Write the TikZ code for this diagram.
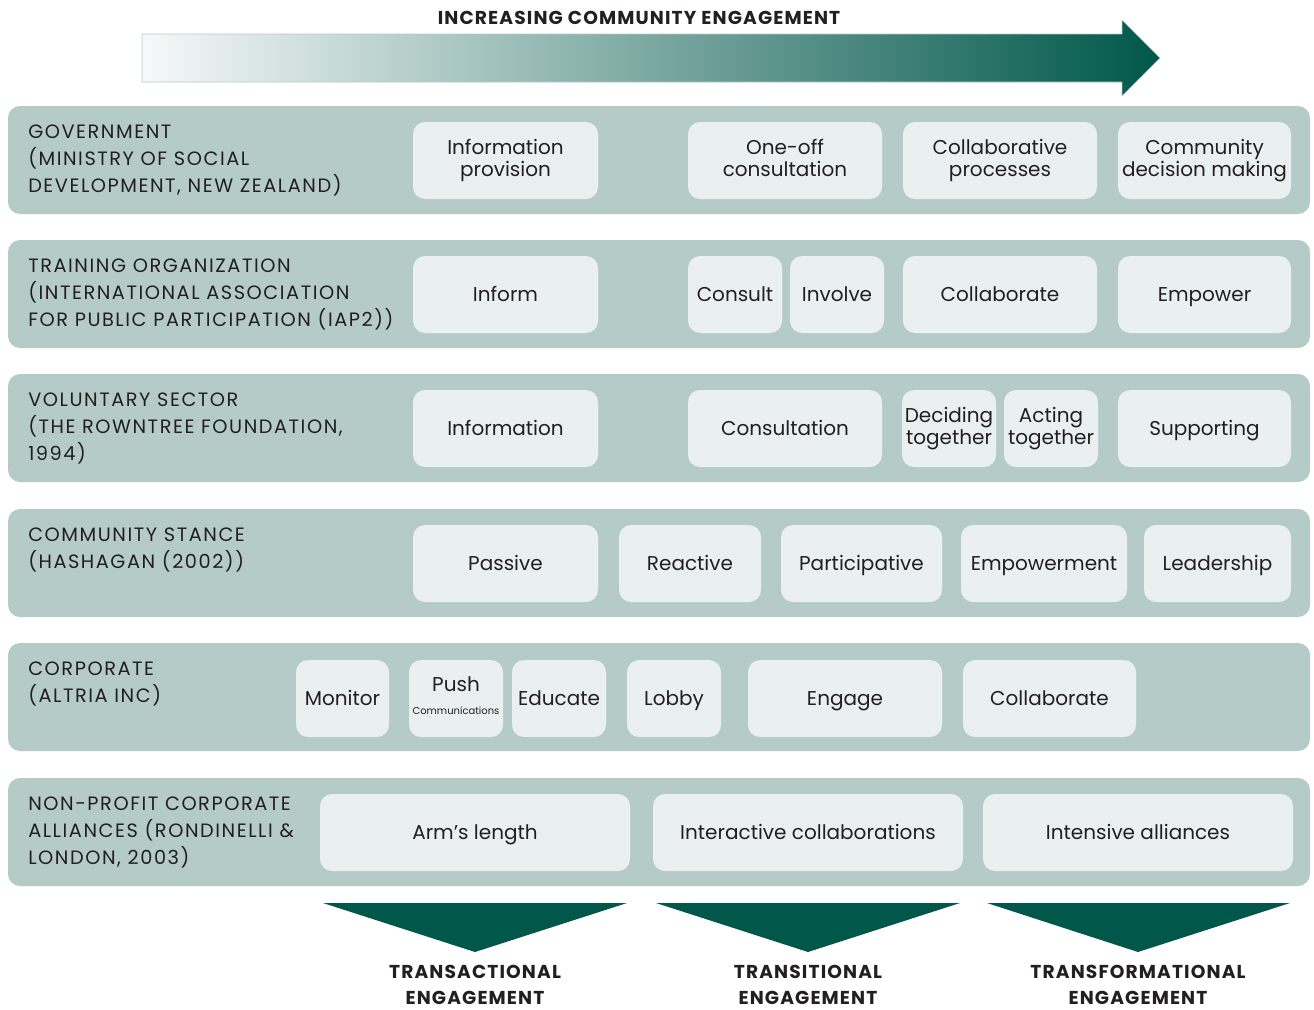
\documentclass[tikz,border=0pt]{standalone}
\usepackage{fontspec}
\setmainfont{Poppins}
\newfontfamily\capsfont{Poppins}[LetterSpace=8]
\newfontfamily\headfont{Poppins}[LetterSpace=6]
\usetikzlibrary{positioning}
\definecolor{bandgreen}{HTML}{B5CBC7}
\definecolor{boxgreen}{HTML}{E9F0EF}
\definecolor{darkgreen}{HTML}{00574A}
\definecolor{inktext}{HTML}{231F20}
\tikzset{
	bandlabel/.style={anchor=base west,align=left,inner sep=0pt,text=inktext,font=\capsfont\fontsize{14.5}{20}\selectfont},
	stagebox/.style={fill=boxgreen,rounded corners=9pt,minimum height=57.75pt,inner sep=1pt,align=center,text=inktext,font=\fontsize{15}{16}\selectfont,
		execute at begin node=\rule{0pt}{14.5pt},execute at end node=\rule[-4pt]{0pt}{4pt}},
	typelabel/.style={align=center,inner sep=0pt,text=inktext,font=\headfont\bfseries\fontsize{14}{20}\selectfont}
}
\begin{document}
\begin{tikzpicture}[x=0.75pt,y=-0.75pt,line join=round]
	\useasboundingbox (0,0) rectangle (1314,1010);
	%%Mũi tên
	\shade[left color=boxgreen!40,right color=darkgreen,draw=bandgreen,line width=0.4pt]
	(142,34)--(1122,34)--(1122,20)--(1160,58)--(1122,96)--(1122,82)--(142,82)--cycle;
	\node[typelabel] (title) at (639,18) {INCREASING COMMUNITY ENGAGEMENT};
	%%Các dải
	\foreach \y in {106,240,374,509,643,778}{
			\fill[bandgreen,rounded corners=9pt] (8,\y) rectangle (1310,\y+108);
		}
	%% base = dòng cuối
	\foreach \n/\y/\t in {gov/192/{GOVERNMENT\\(MINISTRY OF SOCIAL\\DEVELOPMENT, NEW ZEALAND)},
		train/326/{TRAINING ORGANIZATION\\(INTERNATIONAL ASSOCIATION\\FOR PUBLIC PARTICIPATION (IAP2))},
		vol/460/{VOLUNTARY SECTOR\\(THE ROWNTREE FOUNDATION,\\1994)},
		comm/568.5/{COMMUNITY STANCE\\(HASHAGAN (2002))},
		corp/702.5/{CORPORATE\\(ALTRIA INC)},
		npc/864/{NON-PROFIT CORPORATE\\ALLIANCES (RONDINELLI \&\\LONDON, 2003)}}{
			\node[bandlabel] (\n) at (28,\y) {\t};
		}
	%%Các ô
	\foreach \n/\a/\b/\y/\t in {
		infoprov/413/598/122/{Information\\provision},
		oneoff/688/882/122/{One-off\\consultation},
		collabproc/903/1097/122/{Collaborative\\processes},
		commdec/1118/1291/122/{Community\\decision making},
		inform/413/598/256/Inform,
		consult/688/782/256/Consult,
		involve/790/884/256/Involve,
		collab/903/1097/256/Collaborate,
		empower/1118/1291/256/Empower,
		information/413/598/390/Information,
		consultation/688/882/390/Consultation,
		deciding/902/996/390/{Deciding\\together},
		acting/1004/1098/390/{Acting\\together},
		supporting/1118/1291/390/Supporting,
		passive/413/598/525/Passive,
		reactive/619/761/525/Reactive,
		particip/781/942/525/Participative,
		empowerment/961/1127/525/Empowerment,
		leadership/1144/1291/525/Leadership,
		monitor/296/389/660/Monitor,
		push/409/503/660/{Push\\[1pt]{\fontsize{7.5}{9}\selectfont Communications}},
		educate/512/606/660/Educate,
		lobby/627/721/660/Lobby,
		engage/748/942/660/Engage,
		collaborate/963/1136/660/Collaborate,
		armslength/320/630/794/Arm’s length,
		interactive/653/963/794/Interactive collaborations,
		intensive/983/1293/794/Intensive alliances}{
			\pgfmathsetmacro\w{(\b-\a)*0.75}
			\node[stagebox,minimum width=\w pt] (\n) at ({(\a+\b)/2},\y+38.5) {\t};
		}
	%%Tam giác
	\foreach \a/\b/\c/\n/\t in {323/627/475/transact/TRANSACTIONAL,656/960/808/transit/TRANSITIONAL,987/1290/1138/transform/TRANSFORMATIONAL}{
			\fill[darkgreen] (\a,903)--(\b,903)--(\c,952)--cycle;
			\node[typelabel] (\n) at (\c,985) {\t\\ENGAGEMENT};
		}
\end{tikzpicture}
\end{document}
